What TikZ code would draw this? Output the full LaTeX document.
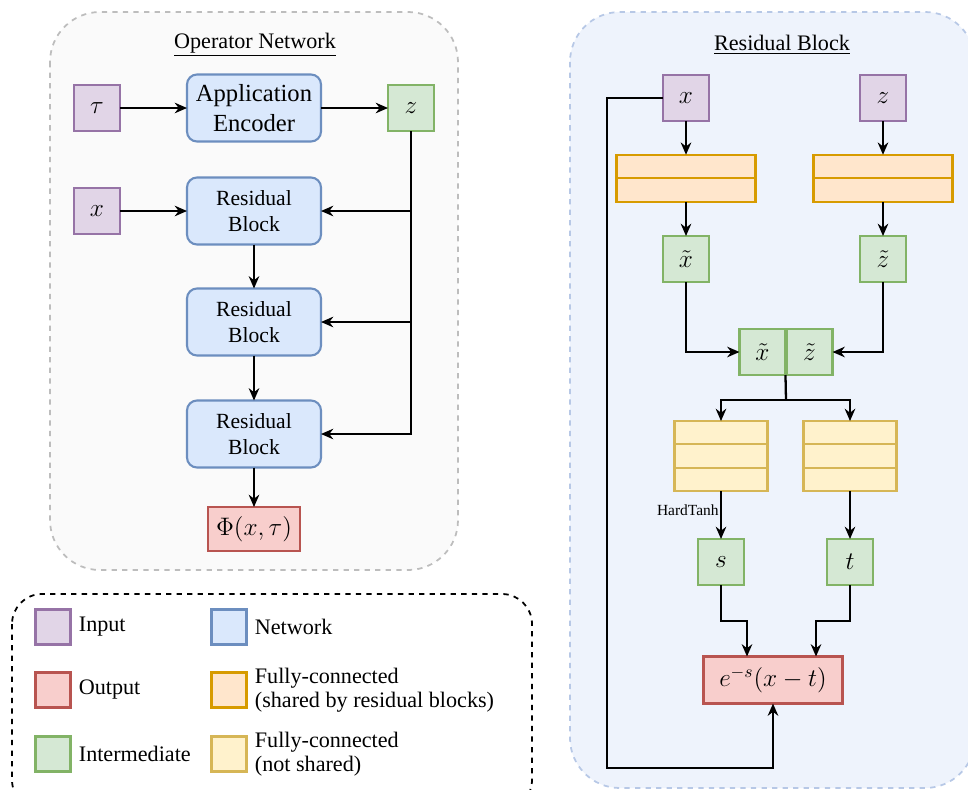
\documentclass[tikz,border=0pt]{standalone}
\usepackage{fontspec}
\setmainfont{Liberation Serif}
\usetikzlibrary{arrows.meta,positioning}
\definecolor{inpfill}{HTML}{E1D5E7}
\definecolor{inpdraw}{HTML}{9673A6}
\definecolor{netfill}{HTML}{DAE8FC}
\definecolor{netdraw}{HTML}{6C8EBF}
\definecolor{midfill}{HTML}{D5E8D4}
\definecolor{middraw}{HTML}{82B366}
\definecolor{outfill}{HTML}{F8CECC}
\definecolor{outdraw}{HTML}{B85450}
\definecolor{fcsfill}{HTML}{FFE6CC}
\definecolor{fcsdraw}{HTML}{D79B00}
\definecolor{fcnfill}{HTML}{FFF2CC}
\definecolor{fcndraw}{HTML}{D6B656}
\definecolor{opfill}{HTML}{FAFAFA}
\definecolor{opdraw}{HTML}{BDBDBD}
\definecolor{rbfill}{HTML}{EEF3FC}
\definecolor{rbdraw}{HTML}{B7C8E6}

\begin{document}
\begin{tikzpicture}[
  x=0.02cm, y=-0.02cm,
  sq/.style={draw, line width=1.2pt, minimum size=0.92cm, inner sep=0pt,
             outer sep=0pt, font=\fontsize{14.4}{16}\selectfont},
  inp/.style={sq, draw=inpdraw, fill=inpfill},
  mid/.style={sq, draw=middraw, fill=midfill},
  net/.style={draw=netdraw, fill=netfill, line width=1.2pt, rounded corners=0.2cm,
              minimum width=2.68cm, minimum height=1.34cm, align=center,
              outer sep=0pt, font=\fontsize{12.3}{14.7}\selectfont},
  outp/.style={draw=outdraw, fill=outfill, line width=1.2pt, inner sep=0pt,
               outer sep=0pt, font=\fontsize{14.4}{16}\selectfont},
  fcs/.style={draw=fcsdraw, fill=fcsfill, line width=1.2pt, inner sep=0pt,
              outer sep=0pt, minimum width=2.78cm, minimum height=0.47cm},
  fcn/.style={draw=fcndraw, fill=fcnfill, line width=1.2pt, inner sep=0pt,
              outer sep=0pt, minimum width=1.86cm, minimum height=0.467cm},
  key/.style={draw, line width=1.2pt, minimum size=0.7cm, inner sep=0pt},
  keytext/.style={anchor=west, align=left, inner sep=0pt,
                  font=\fontsize{12.6}{14}\selectfont},
  panel/.style={dashed, line width=1pt, rounded corners=1cm},
  title/.style={font=\fontsize{12.6}{14}\selectfont},
  link/.style={line width=1.3pt},
  >={Stealth[length=7pt,width=6pt]}
]
\useasboundingbox (0,0) rectangle (968,789);

% panels
\draw[panel, draw=opdraw, fill=opfill] (50,12) rectangle (458,570);
\draw[panel, draw=rbdraw, fill=rbfill] (570,12) rectangle (975,788);
\draw[panel, draw=black, rounded corners=0.6cm] (12,594) rectangle (532,810);

\node[title] (optitle) at (255,45) {\underline{Operator Network}};
\node[title] (rbtitle) at (782,45) {\underline{Residual Block}};

% operator network
\node[inp] (tau) at (97,108) {$\tau$};
\node[net, font=\fontsize{14}{17}\selectfont] (enc) at (254,108) {Application\\Encoder};
\node[mid] (z) at (411,108) {$z$};
\node[inp] (x) at (97,211) {$x$};
\node[net] (rb1) at (254,211) {Residual\\Block};
\node[net] (rb2) at (254,322) {Residual\\Block};
\node[net] (rb3) at (254,434) {Residual\\Block};
\node[outp, minimum width=1.84cm, minimum height=0.88cm] (phi) at (254,529) {$\Phi(x,\tau)$};

\draw[link, ->] (tau) -- (enc);
\draw[link, ->] (enc) -- (z);
\draw[link, ->] (x) -- (rb1);
\draw[link, ->] (rb1) -- (rb2);
\draw[link, ->] (rb2) -- (rb3);
\draw[link, ->] (rb3) -- (phi);
\draw[link, ->] (z.south) |- (rb1.east);
\draw[link, ->] (z.south) |- (rb2.east);
\draw[link, ->] (z.south) |- (rb3.east);

% residual block
\node[inp] (rx) at (686,98) {$x$};
\node[inp] (rz) at (883,98) {$z$};
\node[fcs] (fx1) at (686,166.5) {};
\node[fcs, below=0pt of fx1] (fx2) {};
\node[fcs] (fz1) at (883,166.5) {};
\node[fcs, below=0pt of fz1] (fz2) {};
\node[mid] (xt) at (686,259) {$\tilde{x}$};
\node[mid] (zt) at (883,259) {$\tilde{z}$};
\node[mid] (cx) at (762.5,352) {$\tilde{x}$};
\node[mid] (cz) at (809.5,352) {$\tilde{z}$};
\coordinate (split) at (786,400);
\node[fcn] (fs1) at (721,432.7) {};
\node[fcn, below=0pt of fs1] (fs2) {};
\node[fcn, below=0pt of fs2] (fs3) {};
\node[fcn] (ft1) at (850,432.7) {};
\node[fcn, below=0pt of ft1] (ft2) {};
\node[fcn, below=0pt of ft2] (ft3) {};
\node[font=\fontsize{8.8}{10}\selectfont, anchor=east, inner sep=0pt] (ht) at (719,510) {HardTanh};
\node[mid] (s) at (721,562) {$s$};
\node[mid] (t) at (850,562) {$t$};
\node[outp, minimum width=2.78cm, minimum height=0.94cm] (res) at (773,680) {$e^{-s}(x-t)$};
\coordinate (sk) at (747,621);
\coordinate (tk) at (816,621);
\coordinate (loop) at (607,768);

\draw[link, ->] (rx) -- (fx1);
\draw[link, ->] (rz) -- (fz1);
\draw[link, ->] (fx2) -- (xt);
\draw[link, ->] (fz2) -- (zt);
\draw[link, ->] (xt.south) |- (cx.west);
\draw[link, ->] (zt.south) |- (cz.east);
\draw[link] (cx.south east) -- (split);
\draw[link, ->] (split) -| (fs1.north);
\draw[link, ->] (split) -| (ft1.north);
\draw[link, ->] (fs3) -- (s);
\draw[link, ->] (ft3) -- (t);
\draw[link, ->] (s.south) |- (sk) -- (sk |- res.north);
\draw[link, ->] (t.south) |- (tk) -- (tk |- res.north);
\draw[link, ->] (rx.west) -| (loop) -| (res.south);

% legend
\node[key, draw=inpdraw, fill=inpfill] (kin) at (53,627) {};
\node[key, draw=outdraw, fill=outfill] (kout) at (53,690) {};
\node[key, draw=middraw, fill=midfill] (kmid) at (53,754) {};
\node[key, draw=netdraw, fill=netfill] (knet) at (229,627) {};
\node[key, draw=fcsdraw, fill=fcsfill] (kfcs) at (229,690) {};
\node[key, draw=fcndraw, fill=fcnfill] (kfcn) at (229,754) {};
\node[keytext, right=0.14cm of kin] (lin) {Input};
\node[keytext, right=0.14cm of kout] (lout) {Output};
\node[keytext, right=0.14cm of kmid] (lmid) {Intermediate};
\node[keytext, right=0.14cm of knet] (lnet) {Network};
\node[keytext, right=0.14cm of kfcs] (lfcs) {Fully-connected\\(shared by residual blocks)};
\node[keytext, right=0.14cm of kfcn] (lfcn) {Fully-connected\\(not shared)};

\end{tikzpicture}
\end{document}
